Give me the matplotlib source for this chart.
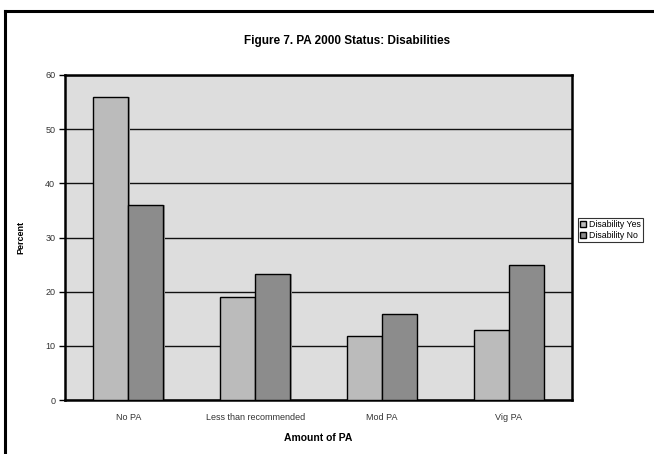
import matplotlib
matplotlib.use("Agg")
import matplotlib.pyplot as plt
import numpy as np
from matplotlib.lines import Line2D

categories = ["No PA", "Less than recommended", "Mod PA", "Vig PA"]
disability_yes = [56.0, 19.0, 11.8, 13.0]
disability_no = [36.0, 23.3, 15.9, 24.9]
series_names = ["Disability Yes", "Disability No"]
yticks = [0, 10, 20, 30, 40, 50, 60]

plt.rcParams['font.family'] = ['Liberation Sans', 'DejaVu Sans']

fig = plt.figure(figsize=(6.54, 4.54), dpi=100)
fig.patch.set_facecolor('white')
ax = fig.add_axes([65/654, 1-400/454, (572-65)/654, (400-75)/454])
ax.set_facecolor('#DDDDDD')

x = np.arange(len(categories))
w = 0.276
col_yes = '#BBBBBB'
col_no = '#8C8C8C'
# shadows
for xs, vals in ((x - w/2, disability_yes), (x + w/2, disability_no)):
    ax.bar(xs + 0.012, vals, w, color='#999999', edgecolor='none', zorder=2)
b1 = ax.bar(x - w/2, disability_yes, w, color=col_yes, edgecolor='black', linewidth=1.0, zorder=3, label=series_names[0])
b2 = ax.bar(x + w/2, disability_no, w, color=col_no, edgecolor='black', linewidth=1.0, zorder=3, label=series_names[1])

ax.set_xlim(-0.5, len(categories) - 0.5)
ax.set_ylim(0, 60)
ax.set_yticks(yticks)
ax.set_yticklabels([str(t) for t in yticks], fontsize=6.5, color='#333333')
ax.set_xticks(x)
ax.set_xticklabels(categories, fontsize=6.5, color='#333333')
ax.tick_params(axis='x', length=0, pad=9)
ax.tick_params(axis='y', length=4, width=1, pad=3, direction='out')
ax.yaxis.grid(True, color='#111111', linewidth=1.0, zorder=1)
ax.set_axisbelow(True)
for s in ax.spines.values():
    s.set_linewidth(1.8)
    s.set_color('black')

ax.set_xlabel("Amount of PA", fontsize=7.5, fontweight='bold', labelpad=8)
ax.set_ylabel("Percent", fontsize=6.5, fontweight='bold', labelpad=14)
fig.text(347/654, 1-41/454, "Figure 7. PA 2000 Status: Disabilities", fontsize=8.5,
         fontweight='bold', ha='center', va='center')

leg = fig.legend(handles=[b1, b2], labels=series_names, loc='upper left',
                 bbox_to_anchor=(578/654, 1-218/454), fontsize=6.3, frameon=True,
                 fancybox=False, edgecolor='black', handlelength=0.7, handleheight=0.7,
                 handletextpad=0.3, borderpad=0.25, labelspacing=0.2, borderaxespad=0)
leg.get_frame().set_linewidth(0.8)

# outer frame
fig.add_artist(Line2D([5.5/654, 5.5/654], [0, 1-10.5/454], transform=fig.transFigure, color='black', linewidth=2.2))
fig.add_artist(Line2D([5.5/654, 1], [1-10.5/454, 1-10.5/454], transform=fig.transFigure, color='black', linewidth=2.2))

fig.savefig("out.png", dpi=100)
